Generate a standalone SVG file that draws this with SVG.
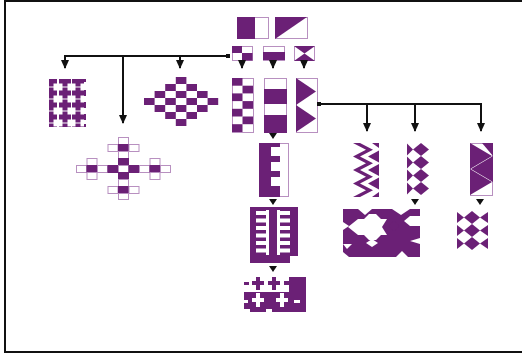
<svg xmlns="http://www.w3.org/2000/svg" xmlns:xlink="http://www.w3.org/1999/xlink" width="522" height="356" viewBox="0 0 522 356">
  <style>
    .p { fill: #6b2076; }
    .w { fill: #ffffff; }
    .box { fill: #ffffff; stroke: #b890c0; stroke-width: 1; }
    .ob { fill: #ffffff; stroke: #b890c0; stroke-width: 1; }
    .line { fill: none; stroke: #111111; stroke-width: 2; }
    .tip { fill: #111111; }
  </style>
  <defs>
    <marker id="ah" markerWidth="9" markerHeight="8" refX="8" refY="4" orient="auto" markerUnits="userSpaceOnUse">
      <path d="M0,0 L9,4 L0,8 z" fill="#111111"/>
    </marker>
    <path id="down" d="M-4,0 L4,0 L0,6 z" fill="#111111"/>
    <path id="plus" d="M-2.5,-5.5 h5 v3 h3.5 v5 h-3.5 v3 h-5 v-3 h-3.5 v-5 h3.5 z"/>
    <clipPath id="crossClip"><rect x="49" y="79" width="37" height="48"/></clipPath>
  </defs>

  <!-- outer frame -->
  <rect x="5" y="1" width="530" height="351" fill="#ffffff" stroke="#111111" stroke-width="2"/>

  <!-- base squares -->
  <g id="base-half">
    <rect class="box" x="237.5" y="17.5" width="31" height="21"/>
    <rect class="p" x="237" y="17" width="18" height="22"/>
  </g>
  <g id="base-diagonal">
    <rect class="box" x="275.5" y="17.5" width="32" height="21"/>
    <polygon class="p" points="275,17 307,17 275,39"/>
  </g>

  <!-- small motifs -->
  <g id="motif-checker">
    <rect class="box" x="232.5" y="46.5" width="20" height="14"/>
    <rect class="p" x="232" y="46" width="10" height="7"/>
    <rect class="p" x="242" y="53" width="10.5" height="7.5"/>
  </g>
  <g id="motif-bar">
    <rect class="box" x="263.5" y="46.5" width="21" height="14"/>
    <rect class="p" x="263" y="52" width="22" height="8"/>
  </g>
  <g id="motif-hourglass">
    <rect class="box" x="294.5" y="46.5" width="20" height="14"/>
    <polygon class="p" points="294,46 315,46 304.5,53.5"/>
    <polygon class="p" points="294,61 315,61 304.5,53.5"/>
  </g>

  <!-- vertical strips -->
  <g id="strip-checker">
    <rect class="box" x="232.5" y="78.5" width="21" height="54"/>
    <rect class="p" x="232" y="78" width="10.5" height="7.7"/>
    <rect class="p" x="242.5" y="85.7" width="10.5" height="7.7"/>
    <rect class="p" x="232" y="93.4" width="10.5" height="7.7"/>
    <rect class="p" x="242.5" y="101.1" width="10.5" height="7.7"/>
    <rect class="p" x="232" y="108.8" width="10.5" height="7.7"/>
    <rect class="p" x="242.5" y="116.5" width="10.5" height="7.7"/>
    <rect class="p" x="232" y="124.2" width="10.5" height="7.8"/>
  </g>
  <g id="strip-bands">
    <rect class="box" x="264.5" y="78.5" width="22" height="54"/>
    <rect class="p" x="264" y="89" width="23" height="15"/>
    <rect class="p" x="264" y="115" width="23" height="18"/>
  </g>
  <g id="strip-triangles">
    <rect class="box" x="296.5" y="78.5" width="21" height="54"/>
    <polygon class="p" points="296,78 316,91.5 296,105"/>
    <polygon class="p" points="296,105 316,118.5 296,132"/>
  </g>

  <!-- left branch -->
  <g id="crosses-block" class="p" clip-path="url(#crossClip)">
    <use xlink:href="#plus" x="51" y="81"/>
    <use xlink:href="#plus" x="65" y="81"/>
    <use xlink:href="#plus" x="78" y="81"/>
    <use xlink:href="#plus" x="51" y="93"/>
    <use xlink:href="#plus" x="65" y="93"/>
    <use xlink:href="#plus" x="78" y="93"/>
    <use xlink:href="#plus" x="51" y="105"/>
    <use xlink:href="#plus" x="65" y="105"/>
    <use xlink:href="#plus" x="78" y="105"/>
    <use xlink:href="#plus" x="51" y="117"/>
    <use xlink:href="#plus" x="65" y="117"/>
    <use xlink:href="#plus" x="78" y="117"/>
    <use xlink:href="#plus" x="51" y="129"/>
    <use xlink:href="#plus" x="65" y="129"/>
    <use xlink:href="#plus" x="78" y="129"/>
    <rect x="84" y="79" width="2" height="3"/>
    <rect x="84" y="90" width="2" height="6"/>
    <rect x="84" y="102" width="2" height="6"/>
    <rect x="84" y="114" width="2" height="6"/>
    <rect x="84" y="124" width="2" height="3"/>
  </g>

  <g id="diamond-checker">
    <rect class="p" x="175.8" y="77" width="10.6" height="7"/>
    <rect class="p" x="165.2" y="84" width="10.6" height="7"/>
    <rect class="p" x="186.4" y="84" width="10.6" height="7"/>
    <rect class="p" x="154.6" y="91" width="10.6" height="7"/>
    <rect class="p" x="175.8" y="91" width="10.6" height="7"/>
    <rect class="p" x="197" y="91" width="10.6" height="7"/>
    <rect class="p" x="144" y="98" width="10.6" height="7"/>
    <rect class="p" x="165.2" y="98" width="10.6" height="7"/>
    <rect class="p" x="186.4" y="98" width="10.6" height="7"/>
    <rect class="p" x="207.6" y="98" width="10.6" height="7"/>
    <rect class="p" x="154.6" y="105" width="10.6" height="7"/>
    <rect class="p" x="175.8" y="105" width="10.6" height="7"/>
    <rect class="p" x="197" y="105" width="10.6" height="7"/>
    <rect class="p" x="165.2" y="112" width="10.6" height="7"/>
    <rect class="p" x="186.4" y="112" width="10.6" height="7"/>
    <rect class="p" x="175.8" y="119" width="10.6" height="7"/>
  </g>

  <g id="outlined-cross">
    <rect class="ob" x="118.5" y="137.5" width="10" height="7"/>
    <rect class="ob" x="108" y="144.5" width="10" height="7"/>
    <rect class="p" x="118" y="144" width="11" height="8"/>
    <rect class="ob" x="129" y="144.5" width="10" height="7"/>
    <rect class="ob" x="118.5" y="151.5" width="10" height="7"/>
    <rect class="ob" x="87" y="158.5" width="10" height="7"/>
    <rect class="p" x="118" y="158" width="11" height="8"/>
    <rect class="ob" x="150" y="158.5" width="10" height="7"/>
    <rect class="ob" x="76.5" y="165.5" width="10" height="7"/>
    <rect class="p" x="86.5" y="165" width="11" height="8"/>
    <rect class="ob" x="97.5" y="165.5" width="10" height="7"/>
    <rect class="p" x="107.5" y="165" width="11" height="8"/>
    <rect class="ob" x="118.5" y="165.5" width="10" height="7"/>
    <rect class="p" x="128.5" y="165" width="11" height="8"/>
    <rect class="ob" x="139.5" y="165.5" width="10" height="7"/>
    <rect class="p" x="149.5" y="165" width="11" height="8"/>
    <rect class="ob" x="160.5" y="165.5" width="10" height="7"/>
    <rect class="ob" x="87" y="172.5" width="10" height="7"/>
    <rect class="p" x="118" y="172" width="11" height="8"/>
    <rect class="ob" x="150" y="172.5" width="10" height="7"/>
    <rect class="ob" x="118.5" y="179.5" width="10" height="7"/>
    <rect class="ob" x="108" y="186.5" width="10" height="7"/>
    <rect class="p" x="118" y="186" width="11" height="8"/>
    <rect class="ob" x="129" y="186.5" width="10" height="7"/>
    <rect class="ob" x="118.5" y="193.5" width="10" height="6"/>
  </g>

  <!-- centre branch -->
  <g id="comb">
    <rect class="box" x="259.5" y="143.5" width="29" height="53"/>
    <rect class="p" x="259" y="143" width="12" height="54"/>
    <rect class="p" x="271" y="143" width="9" height="4"/>
    <rect class="p" x="271" y="156" width="9" height="6"/>
    <rect class="p" x="271" y="171" width="9" height="6"/>
    <rect class="p" x="271" y="186" width="9" height="11"/>
  </g>

  <g id="ladder">
    <rect class="p" x="250" y="207" width="48" height="56"/>
    <rect class="w" x="256" y="211" width="12" height="4"/>
    <rect class="w" x="256" y="218.5" width="12" height="4"/>
    <rect class="w" x="256" y="226" width="12" height="4"/>
    <rect class="w" x="256" y="233.5" width="12" height="4"/>
    <rect class="w" x="256" y="241" width="12" height="4"/>
    <rect class="w" x="256" y="248.5" width="12" height="4"/>
    <rect class="w" x="266" y="210" width="3" height="45"/>
    <rect class="w" x="277" y="210" width="3" height="45"/>
    <rect class="w" x="277" y="211" width="13" height="4"/>
    <rect class="w" x="277" y="218.5" width="13" height="4"/>
    <rect class="w" x="277" y="226" width="13" height="4"/>
    <rect class="w" x="277" y="233.5" width="13" height="4"/>
    <rect class="w" x="277" y="241" width="13" height="4"/>
    <rect class="w" x="277" y="248.5" width="13" height="4"/>
    <rect class="w" x="290" y="256" width="8" height="7"/>
  </g>

  <g id="block-crosses">
    <rect class="p" x="244" y="277" width="62" height="35"/>
    <rect class="w" x="244" y="277" width="45" height="15"/>
    <rect class="p" x="244" y="282" width="5" height="3"/>
    <path class="p" d="M256,277h4v4h4v4h-4v5h-4v-5h-4v-4h4z"/>
    <path class="p" d="M272,277h4v4h4v4h-4v5h-4v-5h-4v-4h4z"/>
    <rect class="p" x="284" y="281" width="5" height="4"/>
    <path class="w" d="M256,293h4v5h4v4h-4v5h-4v-5h-4v-4h4z"/>
    <path class="w" d="M280,293h4v5h4v4h-4v5h-4v-5h-4v-4h4z"/>
    <rect class="w" x="244" y="300" width="4" height="3"/>
    <rect class="w" x="294" y="300" width="6" height="3"/>
    <rect class="w" x="244" y="309" width="6" height="3"/>
    <rect class="w" x="266" y="309" width="6" height="3"/>
  </g>

  <!-- right branch -->
  <g id="zigzag">
    <polygon class="p" points="353,143 366,149.75 353,156.5 366,163.25 353,170 366,176.75 353,183.5 366,190.25 353,197 360,197 373,190.25 360,183.5 373,176.75 360,170 373,163.25 360,156.5 373,149.75 360,143"/>
    <polygon class="p" points="379,150.5 368,156.5 379,162.5"/>
    <polygon class="p" points="379,164 368,170 379,176"/>
    <polygon class="p" points="379,177.5 368,183.5 379,189.5"/>
    <polygon class="p" points="372,143 379,143 379,148"/>
    <polygon class="p" points="379,192 379,197 372,197"/>
  </g>

  <g id="diamond-column">
    <polygon class="p" points="421,143 429,149.5 421,156 413,149.5"/>
    <polygon class="p" points="421,156 429,162.5 421,169 413,162.5"/>
    <polygon class="p" points="421,169 429,175.5 421,182 413,175.5"/>
    <polygon class="p" points="421,182 429,188.5 421,195 413,188.5"/>
    <polygon class="p" points="407,143.5 413,149.5 407,155.5"/>
    <polygon class="p" points="407,156.5 413,162.5 407,168.5"/>
    <polygon class="p" points="407,169.5 413,175.5 407,181.5"/>
    <polygon class="p" points="407,182.5 413,188.5 407,194.5"/>
  </g>

  <g id="hourglass-column">
    <rect class="box" x="470.5" y="143.5" width="22" height="52"/>
    <polygon class="p" points="470,143 470,169 492,156"/>
    <polygon class="p" points="493,156 493,182 471,169"/>
    <polygon class="p" points="470,169 470,195 492,182"/>
    <polygon class="p" points="493,143 493,156 482,143"/>
  </g>

  <g id="star-panel">
    <rect class="p" x="343" y="208" width="77" height="49"/>
    <rect class="w" x="343" y="207" width="77" height="2"/>
    <polygon class="w" points="358,209 372,209 365,215"/>
    <polygon class="w" points="392,209 410,209 401,215"/>
    <polygon class="w" points="343,222 349,226 343,230"/>
    <polygon class="w" points="348,227 358,219 364,219 369,214 376,214 381,219 387,219 382,227 387,235 381,235 376,240 369,240 364,235 358,235"/>
    <polygon class="w" points="420,216 410,216 404,221 410,226 420,226"/>
    <polygon class="p" points="394,221 400,226 394,231 388,226"/>
    <polygon class="w" points="366,243 372,239 378,243 372,247"/>
    <polygon class="w" points="343,244 352,244 347,249"/>
    <polygon class="w" points="420,238 410,241 420,244"/>
    <polygon class="w" points="343,252 349,257 343,257"/>
    <polygon class="w" points="396,257 402,251 408,257"/>
  </g>

  <g id="small-diamonds">
    <polygon class="p" points="472,211 480,217.5 472,224 464,217.5"/>
    <polygon class="p" points="472,224 480,230.5 472,237 464,230.5"/>
    <polygon class="p" points="472,237 480,243.5 472,250 464,243.5"/>
    <polygon class="p" points="457,212 464,217.5 457,223"/>
    <polygon class="p" points="457,225 464,230.5 457,236"/>
    <polygon class="p" points="457,238 464,243.5 457,249"/>
    <polygon class="p" points="488,212 480,217.5 488,223"/>
    <polygon class="p" points="488,225 480,230.5 488,236"/>
    <polygon class="p" points="488,238 480,243.5 488,249"/>
  </g>

  <!-- connectors -->
  <g id="connectors">
    <path class="line" d="M228,56 H65 V68" marker-end="url(#ah)"/>
    <path class="line" d="M123,56 V123" marker-end="url(#ah)"/>
    <path class="line" d="M180,56 V68" marker-end="url(#ah)"/>
    <rect class="tip" x="226" y="54" width="4" height="4"/>

    <path class="line" d="M239,61.5 h6 M242,61.5 V68" marker-end="url(#ah)"/>
    <path class="line" d="M270,61.5 h6 M273,61.5 V68" marker-end="url(#ah)"/>
    <path class="line" d="M301,61.5 h6 M304,61.5 V68" marker-end="url(#ah)"/>

    <path class="line" d="M319,104 H481 V131" marker-end="url(#ah)"/>
    <path class="line" d="M367,104 V131" marker-end="url(#ah)"/>
    <path class="line" d="M415,104 V131" marker-end="url(#ah)"/>
    <rect class="tip" x="317" y="102" width="4" height="4"/>

    <use xlink:href="#down" x="273" y="133"/>
    <use xlink:href="#down" x="273" y="199"/>
    <use xlink:href="#down" x="273" y="266"/>
    <use xlink:href="#down" x="415" y="199"/>
    <use xlink:href="#down" x="480" y="199"/>
  </g>
</svg>
